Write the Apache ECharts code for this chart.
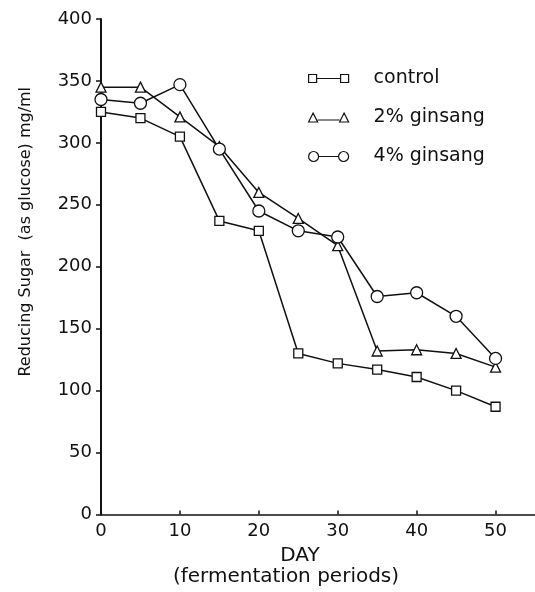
<!DOCTYPE html>
<html>
<head>
<meta charset="utf-8">
<script src="https://cdn.jsdelivr.net/npm/echarts@6/dist/echarts.min.js"></script>
<style>html,body{margin:0;padding:0;background:#fff;}#c{width:535px;height:592px;}</style>
</head>
<body>
<div id="c"></div>
<script>
var days = [0, 5, 10, 15, 20, 25, 30, 35, 40, 45, 50];
var control = [325, 320, 305, 237, 229, 130, 122, 117, 111, 100, 87];
var ginsang2 = [345, 345, 321, 297, 260, 239, 217, 132, 133, 130, 119];
var ginsang4 = [335, 332, 347, 295, 245, 229, 224, 176, 179, 160, 126];
var seriesNames = ['control', '2% ginsang', '4% ginsang'];
var yTicks = [0, 50, 100, 150, 200, 250, 300, 350, 400];
var xTicks = [0, 10, 20, 30, 40, 50];

var FONT = "'DejaVu Sans', Verdana, sans-serif";
function pairs(vals) { return days.map(function (d, i) { return [d, vals[i]]; }); }

var chart = echarts.init(document.getElementById('c'), null, { renderer: 'canvas' });
var symStyle = { color: '#fff', borderColor: '#111', borderWidth: 1.3 };
function mk(name, vals, sym, size) {
  return {
    name: name, type: 'line', data: pairs(vals), symbol: sym, symbolSize: size,
    showAllSymbol: true,
    lineStyle: { color: '#111', width: 1.5 },
    itemStyle: symStyle,
    emphasis: { disabled: true }, animation: false
  };
}
var icons = {
  'control': 'path://M0,1h8v8h-8z M8,5h24 M32,1h8v8h-8z',
  '2% ginsang': 'path://M0,10L4.5,1L9,10z M9,8h22 M31,10L35.5,1L40,10z',
  '4% ginsang': 'path://M0,5a5,5 0 1,0 10,0a5,5 0 1,0 -10,0z M10,5h20 M30,5a5,5 0 1,0 10,0a5,5 0 1,0 -10,0z'
};
chart.setOption({
  animation: false,
  backgroundColor: '#fff',
  grid: { left: 101, right: -4, top: 19, bottom: 76 },
  legend: {
    orient: 'vertical', left: 308, top: 69, padding: 0, itemWidth: 40, itemHeight: 11, itemGap: 20,
    data: seriesNames.map(function (n) { return { name: n, icon: icons[n] }; }),
    itemStyle: { color: '#fff', borderColor: '#111', borderWidth: 1.2 },
    textStyle: { fontFamily: FONT, fontSize: 19, color: '#111', padding: [0, 0, 0, 20] },
    selectedMode: false
  },
  xAxis: {
    type: 'value', min: 0, max: 55, interval: 10,
    name: '{a|DAY}\n{b|(fermentation periods)}', nameLocation: 'middle', nameGap: 31,
    nameTextStyle: {
      fontFamily: FONT, color: '#111',
      rich: {
        a: { fontFamily: FONT, fontSize: 20, lineHeight: 21, color: '#111', padding: [0, 36, 0, 0] },
        b: { fontFamily: FONT, fontSize: 20, lineHeight: 21, color: '#111', padding: [0, 64, 0, 0] }
      }
    },
    axisLine: { lineStyle: { color: '#111', width: 1.5 } },
    axisTick: { inside: true, length: 4, lineStyle: { color: '#111', width: 1.5 } },
    axisLabel: { showMaxLabel: false, fontFamily: FONT, fontSize: 18, color: '#111', margin: 8,
      formatter: function (v) { return xTicks.indexOf(v) >= 0 ? String(v) : ''; } },
    splitLine: { show: false }
  },
  yAxis: {
    type: 'value', min: 0, max: 400, interval: 50,
    name: 'Reducing Sugar  (as glucose) mg/ml', nameLocation: 'middle', nameGap: 67, nameRotate: 90,
    nameTextStyle: { fontFamily: FONT, fontSize: 16, color: '#111', padding: [0, 0, 0, 70] },
    axisLine: { show: true, lineStyle: { color: '#111', width: 2 } },
    axisTick: { show: true, length: 5, lineStyle: { color: '#111', width: 1.5 } },
    axisLabel: { fontFamily: FONT, fontSize: 18, color: '#111', margin: 9,
      formatter: function (v) { return yTicks.indexOf(v) >= 0 ? String(v) : ''; } },
    splitLine: { show: false }
  },
  series: [
    mk(seriesNames[0], control, 'rect', 9),
    mk(seriesNames[1], ginsang2, 'triangle', 10),
    mk(seriesNames[2], ginsang4, 'circle', 12)
  ]
});
// top cap of the y axis at its maximum
var top = chart.convertToPixel({ gridIndex: 0 }, [0, 400]);
chart.setOption({
  graphic: [{
    type: 'line', shape: { x1: top[0] - 4, y1: top[1], x2: top[0] + 18, y2: top[1] },
    style: { stroke: '#111', lineWidth: 1.5 }, silent: true
  }]
});
</script>
</body>
</html>
